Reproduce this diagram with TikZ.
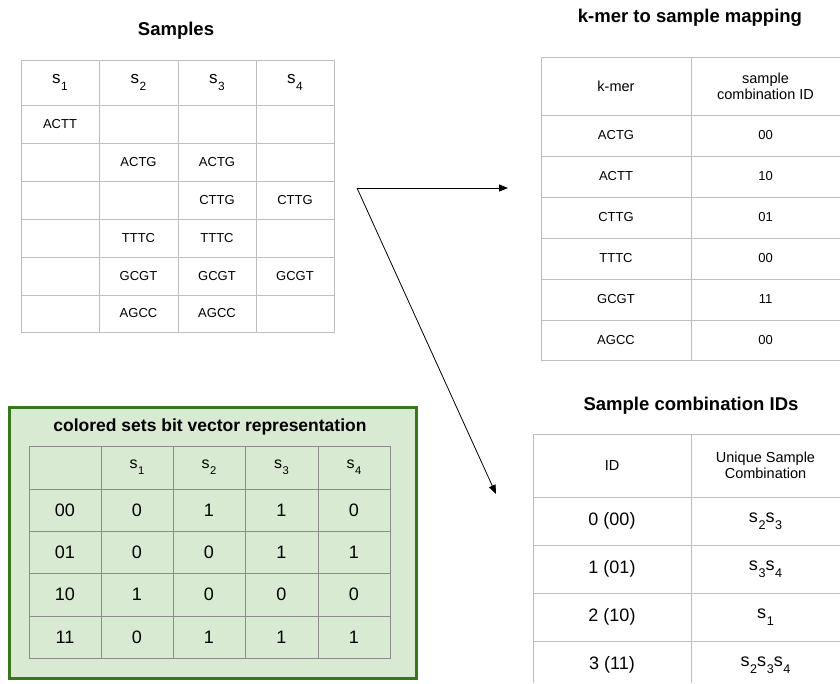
\documentclass[tikz,border=0pt]{standalone}
\usepackage{fontspec}
\setmainfont{Liberation Sans}
\usetikzlibrary{arrows.meta}
\definecolor{lgray}{HTML}{BDBDBD}
\definecolor{ggray}{HTML}{8C8C8C}
\definecolor{gfill}{HTML}{D9EAD3}
\definecolor{gborder}{HTML}{38761D}
\newcommand{\sn}[2][0.7]{s\kern0.6pt\raisebox{-0.7ex}{\scalebox{#1}{#2}}}
\begin{document}
\begin{tikzpicture}[x=1pt,y=-1pt,
  ttl/.style={font=\fontsize{18.5}{22}\selectfont\bfseries, inner sep=0pt},
  lgrid/.style={draw=lgray, line width=1pt},
  ggrid/.style={draw=ggray, line width=1pt},
  smallc/.style={font=\fontsize{13}{15}\selectfont, inner sep=0pt},
  hdrc/.style={font=\fontsize{14.5}{18}\selectfont, inner sep=0pt, align=center},
  shead/.style={font=\fontsize{17}{20}\selectfont, inner sep=0pt},
  bigc/.style={font=\fontsize{18}{21}\selectfont, inner sep=0pt},
  gshead/.style={font=\fontsize{16}{19}\selectfont, inner sep=0pt},
  arr/.style={draw=black, line width=0.8pt, -{Triangle[length=9pt,width=7pt]}}]
\useasboundingbox (0,0) rectangle (840,683);

% ---------------- Samples table ----------------
\node[ttl] (tSamples) at (176,31) {Samples};
\draw[lgrid] (21,60) rectangle (334,332);
\foreach \x in {99,178,256} \draw[lgrid] (\x,60) -- (\x,332);
\foreach \y in {105,143,181,219,257,295} \draw[lgrid] (21,\y) -- (334,\y);
\node[shead] (h1) at (60,82.5) {\sn{1}};
\node[shead] (h2) at (138.5,82.5) {\sn{2}};
\node[shead] (h3) at (217,82.5) {\sn{3}};
\node[shead] (h4) at (295,82.5) {\sn{4}};
\node[smallc] (c11) at (60,124) {ACTT};
\node[smallc] (c22) at (138.5,162) {ACTG};
\node[smallc] (c23) at (217,162) {ACTG};
\node[smallc] (c33) at (217,200) {CTTG};
\node[smallc] (c34) at (295,200) {CTTG};
\node[smallc] (c42) at (138.5,238) {TTTC};
\node[smallc] (c43) at (217,238) {TTTC};
\node[smallc] (c52) at (138.5,276) {GCGT};
\node[smallc] (c53) at (217,276) {GCGT};
\node[smallc] (c54) at (295,276) {GCGT};
\node[smallc] (c62) at (138.5,313.5) {AGCC};
\node[smallc] (c63) at (217,313.5) {AGCC};

% ---------------- k-mer mapping table ----------------
\node[ttl] (tMap) at (690,18) {k-mer to sample mapping};
\draw[lgrid] (840,57) -- (541,57) -- (541,360) -- (840,360);
\draw[lgrid] (691,57) -- (691,360);
\foreach \y in {115,156,197,238,279,320} \draw[lgrid] (541,\y) -- (840,\y);
\node[hdrc] (mk) at (616,86) {k-mer};
\node[hdrc] (mid) at (765.5,86) {sample\\[-2pt]combination ID};
\node[smallc] (k1) at (616,135.5) {ACTG};  \node[smallc] (v1) at (765.5,135.5) {00};
\node[smallc] (k2) at (616,176.5) {ACTT};  \node[smallc] (v2) at (765.5,176.5) {10};
\node[smallc] (k3) at (616,217.5) {CTTG};  \node[smallc] (v3) at (765.5,217.5) {01};
\node[smallc] (k4) at (616,258.5) {TTTC};  \node[smallc] (v4) at (765.5,258.5) {00};
\node[smallc] (k5) at (616,299.5) {GCGT};  \node[smallc] (v5) at (765.5,299.5) {11};
\node[smallc] (k6) at (616,340) {AGCC};    \node[smallc] (v6) at (765.5,340) {00};

% ---------------- green bit vector box ----------------
\draw[fill=gfill, draw=gborder, line width=3pt] (9,407) rectangle (416,678);
\node[font=\fontsize{17.5}{21}\selectfont\bfseries, inner sep=0pt] (tBit) at (210,427) {colored sets bit vector representation};
\draw[ggrid] (29,446) rectangle (390,658);
\foreach \x in {101,173,245,318} \draw[ggrid] (\x,446) -- (\x,658);
\foreach \y in {489,531,573,616} \draw[ggrid] (29,\y) -- (390,\y);
\node[gshead] (g1) at (137,467.5) {\sn{1}};
\node[gshead] (g2) at (209,467.5) {\sn{2}};
\node[gshead] (g3) at (281.5,467.5) {\sn{3}};
\node[gshead] (g4) at (354,467.5) {\sn{4}};
\node[bigc] (r0) at (65,510) {00};
\node[bigc] (r1) at (65,552) {01};
\node[bigc] (r2) at (65,594.5) {10};
\node[bigc] (r3) at (65,637) {11};
\node[bigc] (b01) at (137,510) {0};   \node[bigc] (b02) at (209,510) {1};
\node[bigc] (b03) at (281.5,510) {1}; \node[bigc] (b04) at (354,510) {0};
\node[bigc] (b11) at (137,552) {0};   \node[bigc] (b12) at (209,552) {0};
\node[bigc] (b13) at (281.5,552) {1}; \node[bigc] (b14) at (354,552) {1};
\node[bigc] (b21) at (137,594.5) {1}; \node[bigc] (b22) at (209,594.5) {0};
\node[bigc] (b23) at (281.5,594.5) {0}; \node[bigc] (b24) at (354,594.5) {0};
\node[bigc] (b31) at (137,637) {0};   \node[bigc] (b32) at (209,637) {1};
\node[bigc] (b33) at (281.5,637) {1}; \node[bigc] (b34) at (354,637) {1};

% ---------------- sample combination IDs ----------------
\node[ttl] (tIDs) at (691,406) {Sample combination IDs};
\draw[lgrid] (840,434) -- (533,434) -- (533,683);
\draw[lgrid] (691,434) -- (691,683);
\foreach \y in {497,545,593,641} \draw[lgrid] (533,\y) -- (840,\y);
\node[hdrc] (iid) at (612,465.5) {ID};
\node[hdrc] (iuc) at (765.5,465.5) {Unique Sample\\[-2pt]Combination};
\node[bigc] (i0) at (612,521) {0 (00)}; \node[bigc] (u0) at (765.5,521) {\sn{2}\sn{3}};
\node[bigc] (i1) at (612,569) {1 (01)}; \node[bigc] (u1) at (765.5,569) {\sn{3}\sn{4}};
\node[bigc] (i2) at (612,617) {2 (10)}; \node[bigc] (u2) at (765.5,617) {\sn{1}};
\node[bigc] (i3) at (612,665) {3 (11)}; \node[bigc] (u3) at (765.5,665) {\sn{2}\sn{3}\sn{4}};

% ---------------- arrows ----------------
\coordinate (fork) at (357,188);
\coordinate (endMap) at (508,188);
\coordinate (endIDs) at (496,494);
\draw[arr] (fork) -- (endMap);
\draw[arr] (fork) -- (endIDs);
\end{tikzpicture}
\end{document}
